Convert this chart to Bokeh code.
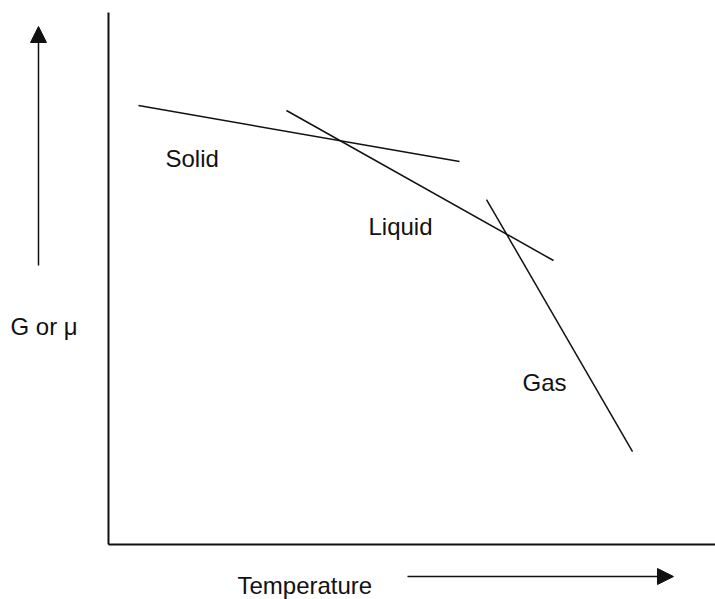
from bokeh.plotting import figure
from bokeh.models import Range1d, Arrow, NormalHead, ColumnDataSource
from bokeh.core.properties import value
from bokeh.embed import file_html
from bokeh.resources import INLINE

# Schematic data (temperature in arbitrary units 0..100, G in arbitrary units 0..100)
phases = ["Solid", "Liquid", "Gas"]
t_start = [4.94, 29.32, 62.27]
t_end = [57.83, 73.31, 86.33]
g_start = [82.52, 81.58, 64.85]
g_end = [71.99, 53.38, 17.48]

label_t = [9.39, 42.83, 68.20]
label_g = [72.56, 59.77, 30.45]

y_label = "G or μ"
x_label = "Temperature"

FONT = value("Liberation Sans")
INK = "#111111"

p = figure(width=715, height=599, output_backend="svg", toolbar_location=None,
           x_range=Range1d(-17.79, 100.0), y_range=Range1d(-10.34, 102.26),
           min_border=0, min_border_left=0, min_border_right=0,
           min_border_top=0, min_border_bottom=0)
p.axis.visible = False
p.grid.visible = False
p.outline_line_color = None
p.background_fill_color = "white"
p.border_fill_color = "white"

# axes (frame lines)
p.segment(x0=[0, 0], y0=[0, 0], x1=[0, 100], y1=[100, 0], line_color=INK, line_width=2)

# phase lines
src = ColumnDataSource(dict(x0=t_start, y0=g_start, x1=t_end, y1=g_end))
p.segment(x0="x0", y0="y0", x1="x1", y1="y1", source=src, line_color=INK, line_width=1.5)

# phase labels
lsrc = ColumnDataSource(dict(x=label_t, y=label_g, t=phases))
p.text(x="x", y="y", text="t", source=lsrc, text_font=FONT, text_font_size="24px",
       text_color=INK, text_baseline="alphabetic", text_align="left")

# y-axis label and arrow
p.text(x=[-16.14], y=[40.98], text=[y_label], text_font=FONT, text_font_size="24px",
       text_color=INK, text_baseline="alphabetic", text_align="left")
p.add_layout(Arrow(end=NormalHead(size=16, fill_color=INK, line_color=INK),
                   x_start=-11.53, y_start=52.44, x_end=-11.53, y_end=97.37,
                   line_color=INK, line_width=1.5))

# x-axis label and arrow
p.text(x=[21.25], y=[-7.71], text=[x_label], text_font=FONT, text_font_size="24px",
       text_color=INK, text_baseline="alphabetic", text_align="left")
p.add_layout(Arrow(end=NormalHead(size=16, fill_color=INK, line_color=INK),
                   x_start=49.26, y_start=-6.02, x_end=93.08, y_end=-6.02,
                   line_color=INK, line_width=1.5))

open("out.html", "w").write(file_html(p, INLINE))
